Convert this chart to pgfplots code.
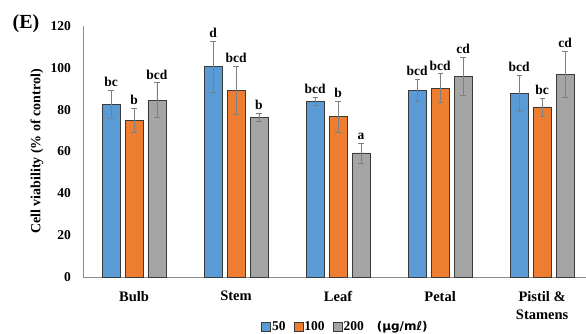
\documentclass[border=0pt]{standalone}
\usepackage{fontspec}
\setmainfont{Liberation Serif}
\newfontfamily\unitfont{DejaVu Sans}
\usepackage{pgfplots}
\usepackage{pgfplotstable}
\pgfplotsset{compat=1.18}
\definecolor{cblue}{HTML}{5B9BD5}
\definecolor{corange}{HTML}{ED7D31}
\definecolor{cgray}{HTML}{A5A5A5}
\definecolor{cedge}{HTML}{3A3A3A}
\definecolor{cerr}{HTML}{7F7F7F}
\definecolor{caxis}{HTML}{8C8C8C}

\pgfplotstableread{
x v e lab
0 82.5 6.8 bc
1 100.5 12.3 d
2 84.1 2.0 bcd
3 89.1 5.3 bcd
4 87.8 8.7 bcd
}\tblA
\pgfplotstableread{
x v e lab
0 75.0 5.8 b
1 89.0 11.5 bcd
2 76.6 7.5 b
3 90.3 6.8 bcd
4 81.3 4.3 bc
}\tblB
\pgfplotstableread{
x v e lab
0 84.5 8.3 bcd
1 76.3 1.8 b
2 59.3 4.8 a
3 95.9 9.2 cd
4 96.9 10.9 cd
}\tblC

\begin{document}
\begin{tikzpicture}
\begin{axis}[
  name=ax,
  scale only axis,
  width=503pt, height=251pt,
  ybar,
  bar width=0.176,
  clip=false,
  xmin=-0.5, xmax=4.43,
  ymin=0, ymax=120,
  ytick={0,20,...,120},
  xtick={0,1,2,3,4},
  xticklabels={Bulb,Stem,Leaf,Petal,{Pistil \&\\Stamens}},
  axis lines*=left,
  axis line style={caxis, line width=0.8pt},
  major tick length=0pt,
  tick style={draw=none},
  yticklabel style={font=\fontsize{13.5}{16}\selectfont\bfseries, inner sep=0pt, xshift=-12pt},
  xticklabel style={font=\fontsize{14.5}{18}\selectfont\bfseries, align=center, inner sep=0pt, yshift=-14pt},
  /pgf/number format/assume math mode=true,
  ylabel={Cell viability (\% of control)},
  every axis y label/.style={at={(axis description cs:-0.0915,0.5)}, rotate=90, anchor=center, font=\fontsize{14}{16}\selectfont\bfseries},
  legend columns=-1,
  legend image code/.code={\draw[#1] (0pt,-4.5pt) rectangle (9pt,4.5pt);},
  legend style={draw=none, fill=none, at={(axis description cs:0.521,-0.199)}, anchor=center,
    font=\fontsize{13.5}{16}\selectfont\bfseries, inner sep=0pt,
    nodes={inner sep=1pt},
    /tikz/every even column/.append style={column sep=7pt}},
  error bars/error bar style={cerr, line width=0.8pt},
  error bars/error mark options={cerr, rotate=90, mark size=2.6pt, line width=0.8pt},
  nodes near coords style={font=\fontsize{13.5}{16}\selectfont\bfseries, anchor=south, inner sep=0pt, yshift=3.5pt},
]
\addplot[fill=cblue, draw=cedge, line width=0.8pt, bar shift=-0.225,
  error bars/.cd, y dir=both, y explicit]
  table[x=x, y=v, y error=e] {\tblA};
\addlegendentry{50}
\addplot[fill=corange, draw=cedge, line width=0.8pt, bar shift=0,
  error bars/.cd, y dir=both, y explicit]
  table[x=x, y=v, y error=e] {\tblB};
\addlegendentry{100}
\addplot[fill=cgray, draw=cedge, line width=0.8pt, bar shift=0.225,
  error bars/.cd, y dir=both, y explicit]
  table[x=x, y=v, y error=e] {\tblC};
\addlegendentry{200}
\addlegendimage{empty legend}
\addlegendentry{\hspace{4pt}{\unitfont\fontsize{12}{14}\selectfont\bfseries (μg/mℓ)}}

\addplot[draw=none, fill=none, forget plot, bar shift=-0.225, nodes near coords, point meta=explicit symbolic]
  table[x=x, y expr=\thisrow{v}+\thisrow{e}, meta=lab] {\tblA};
\addplot[draw=none, fill=none, forget plot, bar shift=0, nodes near coords, point meta=explicit symbolic]
  table[x=x, y expr=\thisrow{v}+\thisrow{e}, meta=lab] {\tblB};
\addplot[draw=none, fill=none, forget plot, bar shift=0.225, nodes near coords, point meta=explicit symbolic]
  table[x=x, y expr=\thisrow{v}+\thisrow{e}, meta=lab] {\tblC};

\node[font=\fontsize{20}{22}\selectfont\bfseries, anchor=center] at (axis description cs:-0.1133,1.008) {(E)};
\end{axis}
\pgfresetboundingbox
\useasboundingbox (ax.south west) ++(-83pt,-57pt) rectangle ++(586pt,334pt);
\end{tikzpicture}
\end{document}
